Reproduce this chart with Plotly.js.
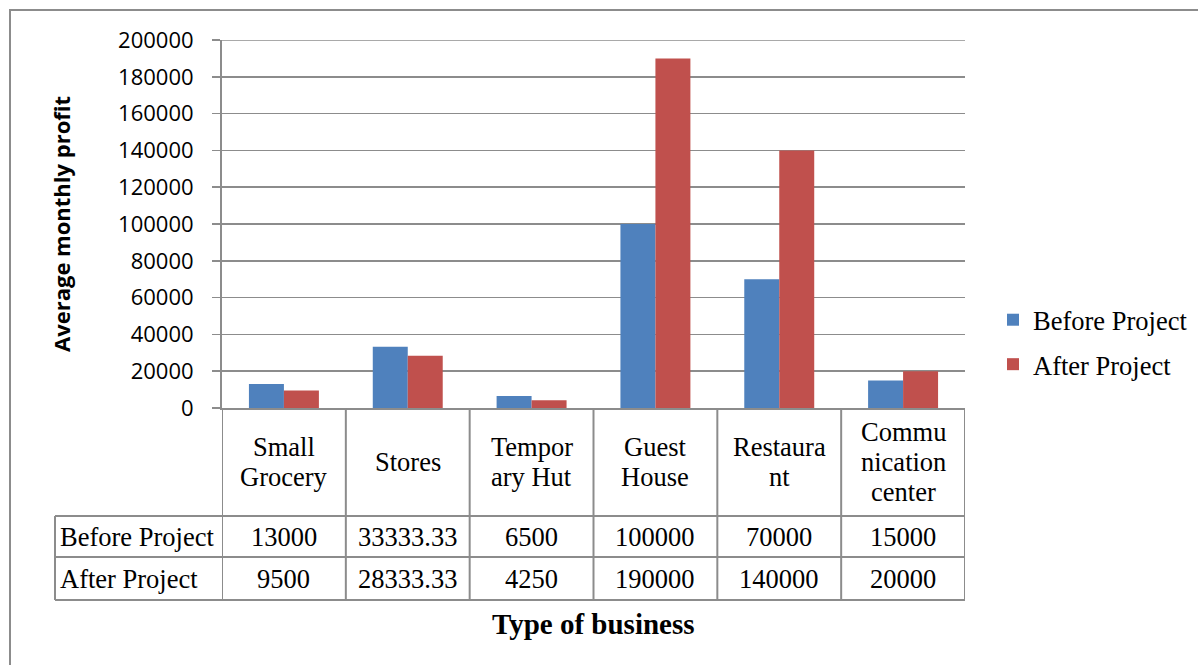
<!DOCTYPE html>
<html>
<head>
<meta charset="utf-8">
<script src="https://cdn.plot.ly/plotly-3.0.1.min.js"></script>
<style>html,body{margin:0;padding:0;background:#fff;}</style>
</head>
<body>
<div id="chart" style="width:1198px;height:665px;"></div>
<script>
// Business types and the label lines shown in the table header cells
const categories = ['Small Grocery', 'Stores', 'Temporary Hut', 'Guest House', 'Restaurant', 'Communication center'];
const categoryLines = [['Small', 'Grocery'], ['Stores'], ['Tempor', 'ary Hut'], ['Guest', 'House'], ['Restaura', 'nt'], ['Commu', 'nication', 'center']];

// Average monthly profit per business type
const seriesNames = ['Before Project', 'After Project'];
const beforeProject = [13000, 33333.33, 6500, 100000, 70000, 15000];
const afterProject = [9500, 28333.33, 4250, 190000, 140000, 20000];

const yTicks = [0, 20000, 40000, 60000, 80000, 100000, 120000, 140000, 160000, 180000, 200000];

const colors = ['#4F81BD', '#C0504D'];
const gridColor = '#8c8c8c';
const serif = 'Liberation Serif, Times New Roman, serif';
const sans = 'Open Sans, Liberation Sans, sans-serif';
const tableFont = {family: serif, size: 26.5, color: '#000'};

// Plot area geometry (pixels) used to place the data table in paper units
const W = 1198, H = 665;
const M = {l: 222, r: 233, t: 40, b: 257, autoexpand: false};
const plotW = W - M.l - M.r, plotH = H - M.t - M.b;
const py = pix => (H - M.b - pix) / plotH;      // pixel row -> paper y
const px = pix => (pix - M.l) / plotW;          // pixel column -> paper x

const rowHeaderBottom = py(516);
const rowBeforeBottom = py(557);
const rowAfterBottom = py(600);
const tableLeft = px(55);

const traces = [beforeProject, afterProject].map((vals, i) => ({
  type: 'bar',
  name: seriesNames[i],
  x: categories,
  y: vals,
  marker: {color: colors[i], line: {width: 0}},
  legendgroup: 'g' + i,
  hoverinfo: 'x+y+name'
}));

const shapes = [];
const annotations = [];
const lineStyle = {color: gridColor, width: 2};

// Outer chart frame
shapes.push({type: 'rect', xref: 'paper', yref: 'paper', x0: px(10), x1: px(1260), y0: py(740), y1: py(10), line: lineStyle, layer: 'below'});

// Top gridline at the axis maximum
const yMax = yTicks[yTicks.length - 1];
shapes.push({type: 'line', xref: 'paper', yref: 'y', x0: px(214), x1: 1, y0: yMax, y1: yMax, line: {color: gridColor, width: 1.5}, layer: 'below'});

// Data table: column separators at category boundaries
for (let i = 0; i <= categories.length; i++) {
  shapes.push({type: 'line', xref: 'x', yref: 'paper', x0: i - 0.5, x1: i - 0.5, y0: 0, y1: rowAfterBottom, line: lineStyle});
}
// Row separators
[rowHeaderBottom, rowBeforeBottom, rowAfterBottom].forEach(yv => {
  shapes.push({type: 'line', xref: 'paper', yref: 'paper', x0: tableLeft, x1: 1, y0: yv, y1: yv, line: lineStyle});
});
// Left edge of the series-name column
shapes.push({type: 'line', xref: 'paper', yref: 'paper', x0: tableLeft, x1: tableLeft, y0: rowHeaderBottom, y1: rowAfterBottom, line: lineStyle});

// Category header cells (lines stacked around the cell centre)
const headerMid = (0 + rowHeaderBottom) / 2;
const lineStep = 30 / plotH;
categoryLines.forEach((lines, i) => {
  lines.forEach((txt, k) => {
    annotations.push({
      xref: 'x', yref: 'paper', x: i, y: headerMid + ((lines.length - 1) / 2 - k) * lineStep,
      text: txt, showarrow: false, xanchor: 'center', yanchor: 'middle', font: tableFont
    });
  });
});

// Value rows
const rows = [[seriesNames[0], beforeProject, (rowHeaderBottom + rowBeforeBottom) / 2],
              [seriesNames[1], afterProject, (rowBeforeBottom + rowAfterBottom) / 2]];
rows.forEach(([name, vals, yMid]) => {
  annotations.push({
    xref: 'paper', yref: 'paper', x: px(58), y: yMid, text: name, showarrow: false,
    xanchor: 'left', yanchor: 'middle', font: tableFont
  });
  vals.forEach((v, i) => {
    annotations.push({
      xref: 'x', yref: 'paper', x: i, y: yMid, text: String(v), showarrow: false,
      xanchor: 'center', yanchor: 'middle', font: tableFont
    });
  });
});

// Axis titles
annotations.push({
  xref: 'paper', yref: 'paper', x: 0.5, y: py(624), text: '<b>Type of business</b>', showarrow: false,
  xanchor: 'center', yanchor: 'middle', font: {family: serif, size: 29, color: '#000'}
});
annotations.push({
  xref: 'paper', yref: 'paper', x: px(61), y: py(224), text: '<b>Average monthly profit</b>', showarrow: false,
  textangle: -90, xanchor: 'center', yanchor: 'middle', font: {family: sans, size: 22, color: '#000'}
});

const layout = {
  width: W, height: H,
  margin: M,
  paper_bgcolor: '#fff', plot_bgcolor: '#fff',
  barmode: 'group', bargap: 0.435, bargroupgap: 0,
  showlegend: true,
  legend: {
    x: px(993), xanchor: 'left', y: py(296), yanchor: 'top',
    traceorder: 'grouped', tracegroupgap: 7,
    font: {family: serif, size: 26.5, color: '#000'},
    bgcolor: 'rgba(0,0,0,0)'
  },
  xaxis: {
    type: 'category', range: [-0.5, categories.length - 0.5],
    showticklabels: false, ticks: '', showgrid: false, zeroline: false,
    showline: true, linecolor: gridColor, linewidth: 2, fixedrange: true
  },
  yaxis: {
    range: [0, yMax], tickvals: yTicks, ticktext: yTicks.map(String),
    showgrid: true, gridcolor: gridColor, gridwidth: 1.5,
    ticks: 'outside', ticklen: 8, tickcolor: gridColor, tickwidth: 1.5,
    ticklabelstandoff: 14,
    showline: true, linecolor: gridColor, linewidth: 2, zeroline: false,
    tickfont: {family: sans, size: 22, color: '#000'}, fixedrange: true
  },
  shapes: shapes,
  annotations: annotations
};

Plotly.newPlot('chart', traces, layout, {displayModeBar: false, staticPlot: true});
</script>
</body>
</html>
